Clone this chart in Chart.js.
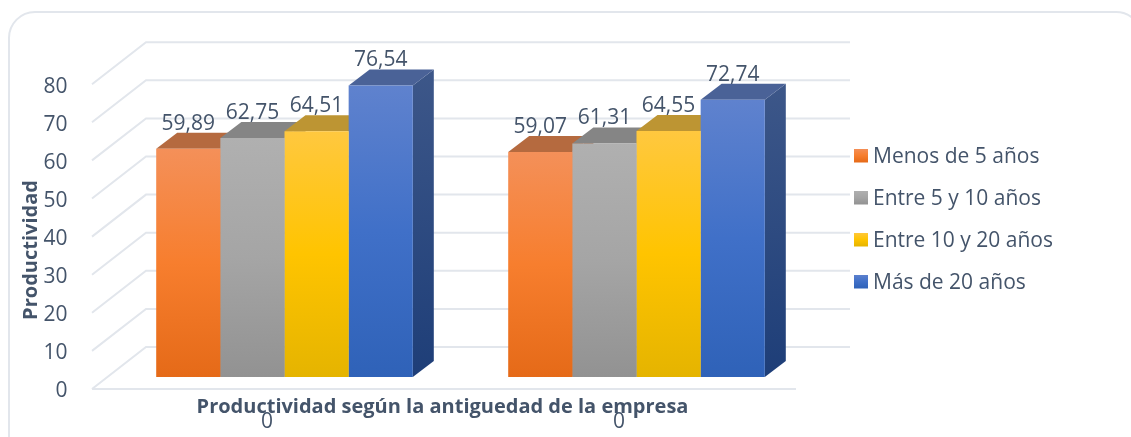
<!DOCTYPE html>
<html>
<head>
<meta charset="utf-8">
<style>html,body{margin:0;padding:0;background:#fff;overflow:hidden}canvas{display:block}</style>
<script src="https://cdn.jsdelivr.net/npm/chart.js@4/dist/chart.umd.min.js"></script>
</head>
<body>
<canvas id="c" width="1131" height="437"></canvas>
<script>
const categories = ["0", "0"];
const seriesNames = ["Menos de 5 años", "Entre 5 y 10 años", "Entre 10 y 20 años", "Más de 20 años"];
const menos5 = [59.89, 59.07];
const entre5y10 = [62.75, 61.31];
const entre10y20 = [64.51, 64.55];
const mas20 = [76.54, 72.74];
const yTitle = "Productividad";
const xTitle = "Productividad según la antiguedad de la empresa";

const INK = "#44546A", GRID = "#E2E6EC", FONT = "'Open Sans', sans-serif", FS = 21, TS = 21;
const DX = 21, DY = 16;
const WALL_DX = 54, WALL_DY = 42, WALL_FRONT_X = 92, WALL_BACK_X_END = 850, FLOOR_END = 796;
const FRONT_OFFSET = 12;

const fronts = [
  ["#F49059", "#F77E2E", "#E56A18"],
  ["#B0B0B0", "#A5A5A5", "#929292"],
  ["#FFC83F", "#FFC400", "#E5B400"],
  ["#5F82CE", "#4070C8", "#2F62B8"]
];
const tops = ["#B56A3F", "#858585", "#BD9533", "#4A6297"];
const sides = [["#B56A3F", "#9A4F1B"], ["#858585", "#666666"], ["#BD9533", "#987500"], ["#3D5789", "#1E3E78"]];
const seriesData = [menos5, entre5y10, entre10y20, mas20];

function vGrad(ctx, y0, y1, stops) {
  const g = ctx.createLinearGradient(0, y0, 0, y1);
  stops.forEach((c, i) => g.addColorStop(i / (stops.length - 1), c));
  return g;
}
function swatch(stops) {
  const cv = document.createElement("canvas");
  cv.width = 14; cv.height = 17;
  const x = cv.getContext("2d");
  x.fillStyle = vGrad(x, 0, 14, stops);
  x.fillRect(0, 0, 14, 14);
  return cv;
}
const swatches = fronts.map(swatch);
const BW = 24 - FS;

const scene = {
  id: "scene",
  beforeLayout(chart) {
    const l = chart.legend;
    if (l && !l._patched) {
      l._patched = true;
      const fit = l.fit;
      l.fit = function () { fit.call(this); this.width = 0; };
    }
  },
  afterLayout(chart) {
    const l = chart.legend;
    const pad = l.options.labels.padding;
    l.left = 873 - FS / 2 - BW - pad; l.right = 1131;
    l.top = 157 - FS / 2 - pad; l.bottom = 437;
  },
  beforeDraw(chart) {
    const c = chart.ctx;
    c.save();
    c.strokeStyle = GRID; c.lineWidth = 2;
    c.beginPath();
    c.roundRect(9, 12, 1133, 450, 26);
    c.stroke();
    c.restore();
  },
  beforeDatasetsDraw(chart) {
    const c = chart.ctx, y = chart.scales.y;
    c.save();
    c.strokeStyle = GRID; c.lineWidth = 2;
    y.ticks.forEach(t => {
      const py = y.getPixelForValue(t.value);
      c.beginPath();
      c.moveTo(WALL_FRONT_X, py + FRONT_OFFSET);
      c.lineTo(WALL_FRONT_X + WALL_DX, py + FRONT_OFFSET - WALL_DY);
      c.lineTo(WALL_BACK_X_END, py + FRONT_OFFSET - WALL_DY);
      c.stroke();
    });
    const y0 = y.getPixelForValue(0) + FRONT_OFFSET;
    c.beginPath(); c.moveTo(WALL_FRONT_X, y0); c.lineTo(FLOOR_END, y0); c.stroke();

    // extruded faces of each bar, left to right
    categories.forEach((_, j) => {
      seriesData.forEach((_, i) => {
        const b = chart.getDatasetMeta(i).data[j];
        const l = b.x - b.width / 2, r = b.x + b.width / 2;
        c.fillStyle = vGrad(c, b.y - DY, b.base, sides[i]);
        c.beginPath();
        c.moveTo(r, b.y); c.lineTo(r + DX, b.y - DY); c.lineTo(r + DX, b.base - DY); c.lineTo(r, b.base);
        c.closePath(); c.fill();
        c.fillStyle = tops[i];
        c.beginPath();
        c.moveTo(l, b.y); c.lineTo(l + DX, b.y - DY); c.lineTo(r + DX, b.y - DY); c.lineTo(r, b.y);
        c.closePath(); c.fill();
      });
    });
    c.restore();
  },
  afterDatasetsDraw(chart) {
    const c = chart.ctx;
    c.save();
    c.fillStyle = INK;
    c.font = TS + "px " + FONT;
    c.textAlign = "center"; c.textBaseline = "middle";
    seriesData.forEach((vals, i) => {
      chart.getDatasetMeta(i).data.forEach((b, j) => {
        c.fillText(vals[j].toFixed(2).replace(".", ","), b.x, b.y - 25);
      });
    });
    c.font = "bold 20px " + FONT;
    c.fillText(xTitle, 442.5, 407);
    c.translate(31, 250);
    c.rotate(-Math.PI / 2);
    c.fillText(yTitle, 0, 0);
    c.restore();
  }
};

new Chart(document.getElementById("c"), {
  type: "bar",
  data: {
    labels: categories,
    datasets: seriesNames.map((name, i) => ({
      label: name,
      data: seriesData[i],
      backgroundColor(ctx) {
        const sc = ctx.chart.scales.y;
        if (!sc || !ctx.parsed) return fronts[i][1];
        const a = sc.getPixelForValue(ctx.parsed.y), b = sc.getPixelForValue(0);
        if (!Number.isFinite(a) || !Number.isFinite(b)) return fronts[i][1];
        return vGrad(ctx.chart.ctx, a, b, fronts[i]);
      },
      borderWidth: 0,
      barPercentage: 1,
      categoryPercentage: 0.729
    }))
  },
  options: {
    responsive: false,
    animation: false,
    layout: { padding: { left: 0, right: 318.5, top: 72.2, bottom: 0 } },
    plugins: {
      tooltip: { enabled: false },
      legend: {
        position: "right",
        align: "start",
        labels: {
          color: INK,
          font: { family: FONT, size: FS },
          usePointStyle: true,
          pointStyleWidth: BW,
          boxHeight: 14,
          padding: 42 - FS,
          generateLabels(chart) {
            return Chart.defaults.plugins.legend.labels.generateLabels(chart).map((it, i) => {
              it.pointStyle = swatches[i];
              return it;
            });
          }
        }
      }
    },
    scales: {
      x: {
        grid: { display: false },
        border: { display: false },
        afterFit(s) { s.height = 60; },
        ticks: { color: INK, font: { family: FONT, size: TS }, labelOffset: -17.5, padding: 24, maxRotation: 0 }
      },
      y: {
        min: 0, max: 80,
        grid: { display: false },
        border: { display: false },
        afterFit(s) { s.width = 108.5; },
        ticks: { stepSize: 10, color: INK, font: { family: FONT, size: TS }, labelOffset: FRONT_OFFSET + 2.5, padding: 33 }
      }
    }
  },
  plugins: [scene]
});
</script>
</body>
</html>
